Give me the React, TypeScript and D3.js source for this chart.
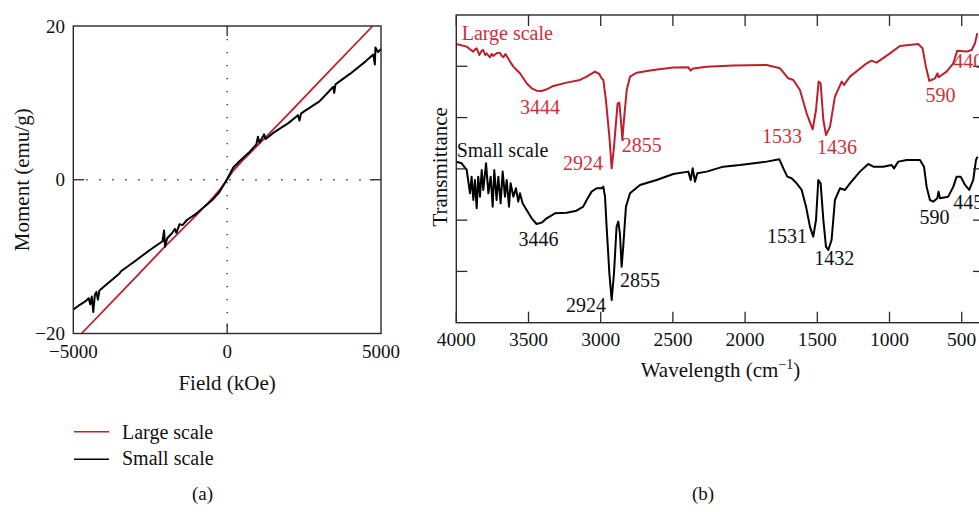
import React from "react";
import * as d3 from "d3";

// ---- panel (a): magnetisation loops, [field kOe, moment emu/g]
const largeLoop: [number, number][] = [
  [-4730, -20], [-3000, -12.8], [-2000, -8.6], [-1000, -4.6], [-500, -2.5],
  [-200, -1.1], [0, 0], [200, 1.2], [500, 2.5], [1000, 4.5], [2000, 8.6],
  [3000, 12.8], [4730, 20],
];
const smallLoop: [number, number][] = [
  [-5000, -16.9], [-4800, -16.3], [-4600, -15.8], [-4500, -15.4], [-4450, -16.2],
  [-4400, -15.2], [-4350, -17.2], [-4300, -15.0], [-4250, -14.6], [-4200, -15.6],
  [-4150, -14.4], [-4000, -13.9], [-3500, -12.2], [-3450, -11.9], [-3000, -10.6],
  [-2500, -9.1], [-2100, -8.0], [-2050, -6.6], [-2020, -8.7], [-1950, -7.6],
  [-1800, -7.0], [-1700, -6.4], [-1650, -6.9], [-1550, -5.8], [-1450, -5.9],
  [-1300, -5.2], [-1000, -4.4], [-500, -2.7], [-250, -1.6], [0, 0.1], [200, 1.6],
  [400, 2.4], [700, 3.5], [950, 4.6], [1000, 5.6], [1050, 4.8], [1200, 5.9],
  [1250, 5.3], [1500, 6.1], [2000, 7.4], [2300, 8.4], [2350, 7.7], [2400, 8.6],
  [2500, 8.9], [3000, 10.2], [3450, 12.1], [3480, 11.3], [3520, 12.4], [4000, 13.8],
  [4500, 15.4], [4750, 16.3], [4800, 15.0], [4820, 17.2], [4900, 16.6], [5000, 17.0],
];
const fieldTicks = [-5000, 0, 5000];
const momentTicks = [-20, 0, 20];

// ---- panel (b): IR spectra, [wavenumber cm-1, transmittance (a.u.)]
const largeSpectrum: [number, number][] = [
  [4000, 5.435], [3928, 5.383], [3905, 5.331], [3882, 5.286], [3870, 5.33], [3859, 5.35], [3841, 5.221],
  [3824, 5.305], [3813, 5.318], [3800, 5.22], [3790, 5.253], [3767, 5.175], [3755, 5.24], [3744, 5.201], [3721, 5.253],
  [3698, 5.266], [3685, 5.2], [3674, 5.175], [3660, 5.24], [3651, 5.201], [3628, 5.091], [3605, 4.993], [3582, 4.928],
  [3559, 4.863], [3536, 4.766], [3513, 4.668], [3478, 4.571], [3444, 4.525], [3409, 4.519],
  [3374, 4.551], [3328, 4.616], [3236, 4.681], [3144, 4.733], [3097, 4.798], [3040, 4.896],
  [3010, 4.85], [2994, 4.766], [2982, 4.733], [2964, 4.343], [2940, 3.628], [2924, 3.01],
  [2908, 3.433], [2883, 4.278], [2871, 4.291], [2860, 3.953], [2850, 3.563], [2839, 3.953],
  [2820, 4.538], [2797, 4.798], [2751, 4.876], [2636, 4.928], [2497, 4.974], [2393, 4.98],
  [2377, 4.915], [2363, 4.954], [2347, 4.961], [2266, 4.993], [2082, 5.013], [1851, 5.026],
  [1758, 4.961], [1701, 4.766], [1666, 4.733], [1620, 4.538], [1574, 4.083], [1532, 3.771],
  [1509, 4.148], [1491, 4.701], [1477, 4.668], [1458, 3.953], [1440, 3.661], [1412, 3.823],
  [1378, 4.408], [1331, 4.701], [1315, 4.636], [1274, 4.798], [1158, 5.058], [1124, 5.11],
  [1089, 5.071], [997, 5.253], [928, 5.396], [801, 5.435], [771, 5.35], [748, 4.993],
  [724, 4.714], [685, 4.766], [667, 4.863], [660, 4.785], [605, 4.896], [558, 5.058],
  [531, 5.305], [466, 5.286], [431, 5.318], [408, 5.448], [392, 5.643],
];
const smallSpectrum: [number, number][] = [
  [4000, 3.14], [3963, 3.108], [3928, 2.978], [3905, 2.523], [3894, 2.848], [3882, 2.393],
  [3871, 2.783], [3859, 2.231], [3848, 2.848], [3836, 2.458], [3824, 2.978], [3813, 2.588],
  [3794, 3.108], [3778, 2.523], [3762, 2.848], [3748, 2.263], [3737, 2.978], [3721, 2.393],
  [3709, 2.848], [3693, 2.328], [3679, 2.946], [3663, 2.458], [3651, 2.783], [3635, 2.263],
  [3624, 2.718], [3605, 2.458], [3587, 2.621], [3571, 2.361], [3559, 2.523], [3541, 2.328],
  [3513, 2.198], [3478, 2.036], [3444, 1.925], [3409, 1.951], [3374, 2.036], [3317, 2.133],
  [3236, 2.146], [3167, 2.185], [3121, 2.263], [3097, 2.393], [3063, 2.556], [3028, 2.621],
  [2994, 2.621], [2982, 2.653], [2970, 2.458], [2959, 1.873], [2940, 0.963], [2924, 0.443],
  [2908, 0.963], [2890, 1.873], [2878, 1.971], [2867, 1.743], [2855, 1.093], [2844, 1.483],
  [2825, 2.263], [2797, 2.523], [2728, 2.686], [2613, 2.783], [2497, 2.9], [2393, 2.946],
  [2377, 2.783], [2363, 3.01], [2347, 2.751], [2331, 2.913], [2266, 2.946], [2151, 3.043],
  [2036, 3.076], [1851, 3.141], [1763, 3.186], [1735, 3.01], [1708, 2.848], [1678, 2.816],
  [1643, 2.718], [1608, 2.588], [1578, 2.263], [1551, 1.873], [1528, 1.678], [1509, 2.003],
  [1493, 2.783], [1477, 2.718], [1458, 2.003], [1440, 1.483], [1424, 1.418], [1401, 1.613],
  [1378, 2.393], [1343, 2.621], [1308, 2.588], [1274, 2.718], [1205, 2.946], [1147, 3.095],
  [1112, 3.043], [1043, 3.043], [985, 3.076], [969, 3.01], [939, 3.141], [881, 3.173],
  [789, 3.173], [761, 3.043], [743, 2.653], [720, 2.393], [697, 2.361], [669, 2.426],
  [660, 2.556], [651, 2.426], [593, 2.458], [558, 2.653], [535, 2.848], [507, 2.848],
  [477, 2.686], [448, 2.588], [420, 2.783], [401, 3.173], [390, 3.238],
];
// peak annotations: [text, wavenumber, transmittance of baseline]
const largePeaks: [string, number, number][] = [
  ["3444", 3420, 4.07], ["2924", 3123, 2.98], ["2855", 2716, 3.33], ["1533", 1745, 3.5],
  ["1436", 1364, 3.29], ["590", 647, 4.31], ["440", 455, 4.97],
];
const smallPeaks: [string, number, number][] = [
  ["3446", 3431, 1.5], ["2924", 3102, 0.21], ["2855", 2728, 0.7], ["1531", 1709, 1.55],
  ["1432", 1383, 1.13], ["590", 688, 1.92], ["445", 455, 2.22],
];
const waveTicks = [4000, 3500, 3000, 2500, 2000, 1500, 1000, 500];
const transTicks = [1, 2, 3, 4, 5];

const RED = "#bd1f2c";
const RED_TEXT = "#cf2f38";
const AXIS = "#2a2a2a";
const FONT = "'Liberation Serif', 'Times New Roman', serif";

export default function App() {
  // panel (a)
  const xa = d3.scaleLinear().domain([-5000, 5000]).range([73.3, 381]);
  const ya = d3.scaleLinear().domain([-20, 20]).range([333.5, 26]);
  const lineA = d3.line<[number, number]>().x((d) => xa(d[0])).y((d) => ya(d[1]));

  // panel (b)
  const xb = d3.scaleLinear().domain([4000, 500]).range([456.3, 961.7]);
  const yb = d3.scaleLinear().domain([0, 6]).range([322.7, 15]);
  const lineB = d3.line<[number, number]>().x((d) => xb(d[0])).y((d) => yb(d[1]));
  const bLeft = xb(4000);
  const bRight = 981;

  return (
    <svg
      width={979}
      height={512}
      style={{ position: "absolute", left: 0, top: 0, background: "#fff" }}
      fontFamily={FONT}
    >
      {/* ---------- panel (a) ---------- */}
      <g>
        <line x1={xa(0)} x2={xa(0)} y1={ya(20)} y2={ya(-20)} stroke="#222" strokeWidth={1.3} strokeDasharray="1.3 11.7" />
        <line x1={xa(-5000)} x2={xa(5000)} y1={ya(0)} y2={ya(0)} stroke="#222" strokeWidth={1.3} strokeDasharray="1.3 11.7" />
        <path d={lineA(largeLoop) || ""} fill="none" stroke={RED} strokeWidth={1.8} />
        <path d={lineA(smallLoop) || ""} fill="none" stroke="#000" strokeWidth={2} strokeLinejoin="round" />
        <rect x={xa(-5000)} y={ya(20)} width={xa(5000) - xa(-5000)} height={ya(-20) - ya(20)} fill="none" stroke={AXIS} strokeWidth={1.4} />
        {/* inward ticks at zero */}
        <line x1={xa(0)} x2={xa(0)} y1={ya(-20)} y2={ya(-20) - 10} stroke={AXIS} strokeWidth={1.3} />
        <line x1={xa(0)} x2={xa(0)} y1={ya(20)} y2={ya(20) + 10} stroke={AXIS} strokeWidth={1.3} />
        <line x1={xa(-5000)} x2={xa(-5000) + 11} y1={ya(0)} y2={ya(0)} stroke={AXIS} strokeWidth={1.3} />
        <line x1={xa(5000)} x2={xa(5000) - 11} y1={ya(0)} y2={ya(0)} stroke={AXIS} strokeWidth={1.3} />
        {fieldTicks.map((t) => (
          <text key={t} x={xa(t)} y={357.5} textAnchor="middle" fontSize={19} fill="#111">
            {t < 0 ? "\u2212" + Math.abs(t) : t}
          </text>
        ))}
        {momentTicks.map((t) => (
          <text key={t} x={65} y={ya(t) + 6.5} textAnchor="end" fontSize={19} fill="#111">
            {t < 0 ? "\u2212" + Math.abs(t) : t}
          </text>
        ))}
        <text x={xa(0)} y={390} textAnchor="middle" fontSize={21} fill="#111">Field (kOe)</text>
        <text transform={`translate(29,${ya(0)}) rotate(-90)`} textAnchor="middle" fontSize={21} fill="#111">
          Moment (emu/g)
        </text>
        {/* legend */}
        <line x1={74} x2={109} y1={431.7} y2={431.7} stroke={RED} strokeWidth={1.4} />
        <text x={122} y={439.3} fontSize={20} fill="#111">Large scale</text>
        <line x1={74} x2={109} y1={459.3} y2={459.3} stroke="#000" strokeWidth={1.6} />
        <text x={122} y={464.8} fontSize={20} fill="#111">Small scale</text>
        <text x={202.5} y={500} textAnchor="middle" fontSize={19} fill="#111">(a)</text>
      </g>

      {/* ---------- panel (b) ---------- */}
      <g>
        <path d={lineB(largeSpectrum) || ""} fill="none" stroke={RED} strokeWidth={2} strokeLinejoin="round" />
        <path d={lineB(smallSpectrum) || ""} fill="none" stroke="#000" strokeWidth={2} strokeLinejoin="round" />
        <rect x={bLeft} y={yb(6)} width={bRight - bLeft} height={yb(0) - yb(6)} fill="none" stroke={AXIS} strokeWidth={1.4} />
        {waveTicks.map((t) => (
          <g key={t}>
            <line x1={xb(t)} x2={xb(t)} y1={yb(0)} y2={yb(0) - 11} stroke={AXIS} strokeWidth={1.3} />
            <line x1={xb(t)} x2={xb(t)} y1={yb(6)} y2={yb(6) + 11} stroke={AXIS} strokeWidth={1.3} />
            <text x={xb(t)} y={346} textAnchor="middle" fontSize={19.5} fill="#111">{t}</text>
          </g>
        ))}
        {transTicks.map((t) => (
          <g key={t}>
            <line x1={bLeft} x2={bLeft + 11} y1={yb(t)} y2={yb(t)} stroke={AXIS} strokeWidth={1.3} />
            <line x1={bRight} x2={bRight - 8} y1={yb(t)} y2={yb(t)} stroke={AXIS} strokeWidth={1.3} />
          </g>
        ))}
        {largePeaks.map(([s, w, t]) => (
          <text key={"l" + s} x={xb(w)} y={yb(t)} textAnchor="middle" fontSize={20} fill={RED_TEXT}>{s}</text>
        ))}
        {smallPeaks.map(([s, w, t]) => (
          <text key={"s" + s} x={xb(w)} y={yb(t)} textAnchor="middle" fontSize={20} fill="#111">{s}</text>
        ))}
        <text x={461.7} y={40} fontSize={20} fill={RED_TEXT}>Large scale</text>
        <text x={456.7} y={156.7} fontSize={20} fill="#111">Small scale</text>
        <text x={720.5} y={376.7} textAnchor="middle" fontSize={21} fill="#111">
          Wavelength (cm<tspan dy={-8} fontSize={14}>{"\u22121"}</tspan><tspan dy={8}>)</tspan>
        </text>
        <text transform={`translate(447,${yb(3) - 2}) rotate(-90)`} textAnchor="middle" fontSize={21} fill="#111">
          Transmittance
        </text>
        <text x={703} y={500} textAnchor="middle" fontSize={19} fill="#111">(b)</text>
      </g>
    </svg>
  );
}
